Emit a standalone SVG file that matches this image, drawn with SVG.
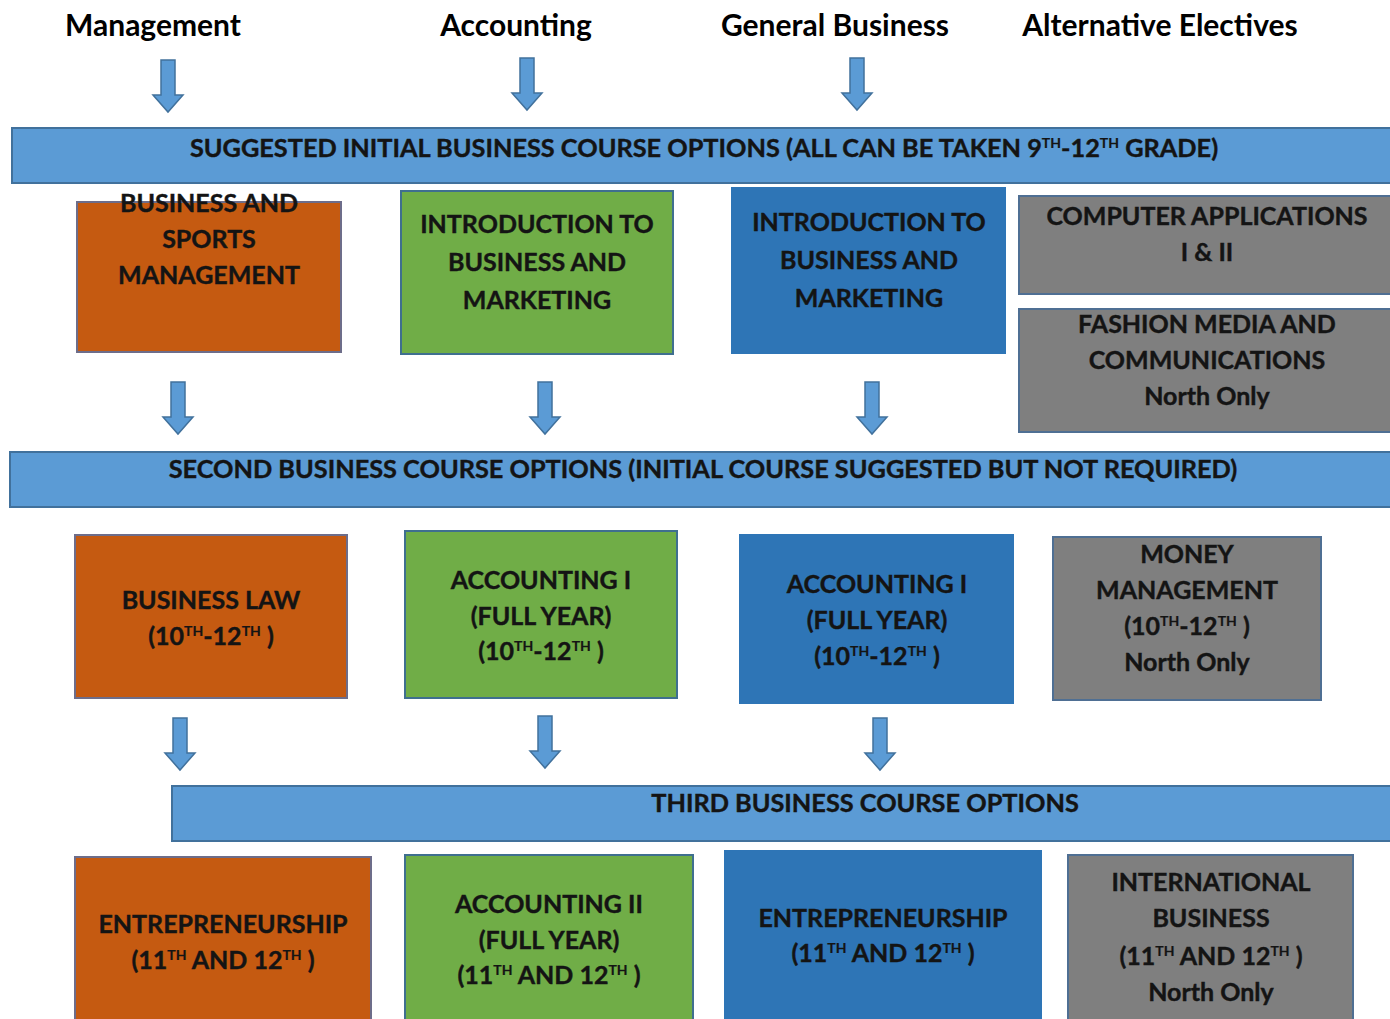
<svg xmlns="http://www.w3.org/2000/svg" width="1390" height="1019" viewBox="0 0 1390 1019">
<defs>
<style>
text{font-family:Lato,"Carlito","Liberation Sans",sans-serif;font-weight:bold;fill:#141414;text-anchor:middle}
.hdr{font-size:30px;fill:#000}
.band{fill:#5b9bd5;stroke:#41719c;stroke-width:2}
.bt{font-size:25.3px;stroke:#141414;stroke-width:0.4}
.t{font-size:25px;stroke:#141414;stroke-width:0.4}
.or{fill:#c55a11;stroke:#6d6d8a;stroke-width:2}
.gr{fill:#70ad47;stroke:#3f6f8f;stroke-width:2}
.bl{fill:#2e75b6;stroke:#2e75b6;stroke-width:2}
.gy{fill:#7f7f7f;stroke:#4f6f93;stroke-width:2}
.arr{fill:#5b9bd5;stroke:#41719c;stroke-width:1.5}
.sup{font-size:14px;stroke-width:0.2}
</style>
<path id="arrow" d="M-7,0 H7 V35 H15 L0,52 L-15,35 H-7 Z"/>
</defs>
<rect width="1390" height="1019" fill="#fff"/>

<g id="headers">
<text class="hdr" x="153" y="36">Management</text>
<text class="hdr" x="516" y="36">Accounting</text>
<text class="hdr" x="835" y="36">General Business</text>
<text class="hdr" x="1160" y="36">Alternative Electives</text>
</g>

<g id="connectors">
<use href="#arrow" class="arr" x="168" y="60"/>
<use href="#arrow" class="arr" x="527" y="58"/>
<use href="#arrow" class="arr" x="857" y="58"/>
<use href="#arrow" class="arr" x="178" y="382"/>
<use href="#arrow" class="arr" x="545" y="382"/>
<use href="#arrow" class="arr" x="872" y="382"/>
<use href="#arrow" class="arr" x="180" y="718"/>
<use href="#arrow" class="arr" x="545" y="716"/>
<use href="#arrow" class="arr" x="880" y="718"/>
</g>

<g id="band1">
<rect class="band" x="12" y="128" width="1390" height="55"/>
<text class="bt" x="704" y="157">SUGGESTED INITIAL BUSINESS COURSE OPTIONS (ALL CAN BE TAKEN 9<tspan class="sup" dy="-9">TH</tspan><tspan dy="9">-12</tspan><tspan class="sup" dy="-9">TH</tspan><tspan dy="9"> GRADE)</tspan></text>
</g>

<g id="n-bsm">
<rect class="or" x="77" y="202" width="264" height="150"/>
<text class="t" x="209" y="212">BUSINESS AND</text>
<text class="t" x="209" y="248">SPORTS</text>
<text class="t" x="209" y="284">MANAGEMENT</text>
</g>
<g id="n-ibm-acc">
<rect class="gr" x="401" y="191" width="272" height="163"/>
<text class="t" x="537" y="233">INTRODUCTION TO</text>
<text class="t" x="537" y="271">BUSINESS AND</text>
<text class="t" x="537" y="309">MARKETING</text>
</g>
<g id="n-ibm-gen">
<rect class="bl" x="732" y="188" width="273" height="165"/>
<text class="t" x="869" y="231">INTRODUCTION TO</text>
<text class="t" x="869" y="269">BUSINESS AND</text>
<text class="t" x="869" y="307">MARKETING</text>
</g>
<g id="n-compapp">
<rect class="gy" x="1019" y="196" width="380" height="98"/>
<text class="t" x="1207" y="225">COMPUTER APPLICATIONS</text>
<text class="t" x="1207" y="261">I &amp; II</text>
</g>
<g id="n-fashion">
<rect class="gy" x="1019" y="309" width="380" height="123"/>
<text class="t" x="1207" y="333">FASHION MEDIA AND</text>
<text class="t" x="1207" y="369">COMMUNICATIONS</text>
<text class="t" x="1207" y="405">North Only</text>
</g>

<g id="band2">
<rect class="band" x="10" y="452" width="1392" height="55"/>
<text class="bt" x="703" y="478">SECOND BUSINESS COURSE OPTIONS (INITIAL COURSE SUGGESTED BUT NOT REQUIRED)</text>
</g>

<g id="n-buslaw">
<rect class="or" x="75" y="535" width="272" height="163"/>
<text class="t" x="211" y="609">BUSINESS LAW</text>
<text class="t" x="211" y="645">(10<tspan class="sup" dy="-9">TH</tspan><tspan dy="9">-12</tspan><tspan class="sup" dy="-9">TH</tspan><tspan dy="9"> )</tspan></text>
</g>
<g id="n-acc1-acc">
<rect class="gr" x="405" y="531" width="272" height="167"/>
<text class="t" x="541" y="589">ACCOUNTING I</text>
<text class="t" x="541" y="625">(FULL YEAR)</text>
<text class="t" x="541" y="660">(10<tspan class="sup" dy="-9">TH</tspan><tspan dy="9">-12</tspan><tspan class="sup" dy="-9">TH</tspan><tspan dy="9"> )</tspan></text>
</g>
<g id="n-acc1-gen">
<rect class="bl" x="740" y="535" width="273" height="168"/>
<text class="t" x="877" y="593">ACCOUNTING I</text>
<text class="t" x="877" y="629">(FULL YEAR)</text>
<text class="t" x="877" y="665">(10<tspan class="sup" dy="-9">TH</tspan><tspan dy="9">-12</tspan><tspan class="sup" dy="-9">TH</tspan><tspan dy="9"> )</tspan></text>
</g>
<g id="n-money">
<rect class="gy" x="1053" y="537" width="268" height="163"/>
<text class="t" x="1187" y="563">MONEY</text>
<text class="t" x="1187" y="599">MANAGEMENT</text>
<text class="t" x="1187" y="635">(10<tspan class="sup" dy="-9">TH</tspan><tspan dy="9">-12</tspan><tspan class="sup" dy="-9">TH</tspan><tspan dy="9"> )</tspan></text>
<text class="t" x="1187" y="671">North Only</text>
</g>

<g id="band3">
<rect class="band" x="172" y="786" width="1230" height="55"/>
<text class="bt" x="865" y="812">THIRD BUSINESS COURSE OPTIONS</text>
</g>

<g id="n-entre-mgmt">
<rect class="or" x="75" y="857" width="296" height="170"/>
<text class="t" x="223" y="933">ENTREPRENEURSHIP</text>
<text class="t" x="223" y="969">(11<tspan class="sup" dy="-9">TH</tspan><tspan dy="9"> AND 12</tspan><tspan class="sup" dy="-9">TH</tspan><tspan dy="9"> )</tspan></text>
</g>
<g id="n-acc2">
<rect class="gr" x="405" y="855" width="288" height="172"/>
<text class="t" x="549" y="913">ACCOUNTING II</text>
<text class="t" x="549" y="949">(FULL YEAR)</text>
<text class="t" x="549" y="984">(11<tspan class="sup" dy="-9">TH</tspan><tspan dy="9"> AND 12</tspan><tspan class="sup" dy="-9">TH</tspan><tspan dy="9"> )</tspan></text>
</g>
<g id="n-entre-gen">
<rect class="bl" x="725" y="851" width="316" height="176"/>
<text class="t" x="883" y="927">ENTREPRENEURSHIP</text>
<text class="t" x="883" y="962">(11<tspan class="sup" dy="-9">TH</tspan><tspan dy="9"> AND 12</tspan><tspan class="sup" dy="-9">TH</tspan><tspan dy="9"> )</tspan></text>
</g>
<g id="n-intl">
<rect class="gy" x="1068" y="855" width="285" height="172"/>
<text class="t" x="1211" y="891">INTERNATIONAL</text>
<text class="t" x="1211" y="927">BUSINESS</text>
<text class="t" x="1211" y="965">(11<tspan class="sup" dy="-9">TH</tspan><tspan dy="9"> AND 12</tspan><tspan class="sup" dy="-9">TH</tspan><tspan dy="9"> )</tspan></text>
<text class="t" x="1211" y="1001">North Only</text>
</g>
</svg>
